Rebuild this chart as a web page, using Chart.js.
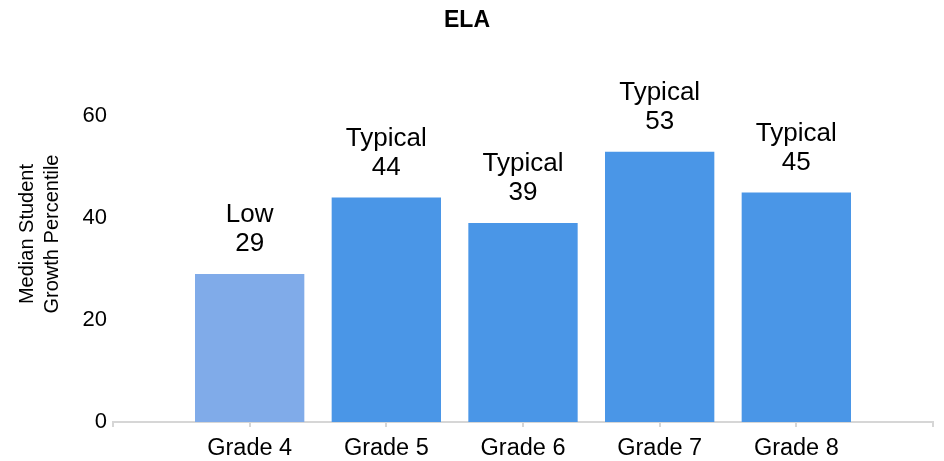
<!DOCTYPE html>
<html>
<head>
<meta charset="utf-8">
<script src="https://cdn.jsdelivr.net/npm/chart.js@4/dist/chart.umd.min.js"></script>
<style>
  html, body { margin: 0; padding: 0; background: #ffffff; }
  #wrap { width: 944px; height: 461px; position: relative; }
</style>
</head>
<body>
<div id="wrap"><canvas id="chart"></canvas></div>
<script>
// Grades shown on the x axis (empty slots pad both ends of the axis)
const grades = ['', 'Grade 4', 'Grade 5', 'Grade 6', 'Grade 7', 'Grade 8', ''];
// Median student growth percentile per grade
const medianSGP = [null, 29, 44, 39, 53, 45, null];
// Growth level for each grade
const growthLevel = ['', 'Low', 'Typical', 'Typical', 'Typical', 'Typical', ''];
// Y tick values
const yTicks = [0, 20, 40, 60];

const chartTitle = 'ELA';
const yAxisTitle = ['Median Student', 'Growth Percentile'];

const FONT = '"Liberation Sans", Arial, sans-serif';
const levelColors = { Low: '#80abe9', Typical: '#4a96e7' };

const overlay = {
  id: 'overlay',
  afterDatasetsDraw(chart) {
    const ctx = chart.ctx;
    const meta = chart.getDatasetMeta(0);
    ctx.save();
    ctx.fillStyle = '#000000';
    ctx.textAlign = 'center';
    ctx.textBaseline = 'alphabetic';
    // value and growth level above each bar
    ctx.font = '26px ' + FONT;
    meta.data.forEach((bar, i) => {
      const v = medianSGP[i];
      if (v === null) return;
      ctx.fillText(String(v), bar.x, bar.y - 23);
      ctx.fillText(growthLevel[i], bar.x, bar.y - 52);
    });
    // chart title
    ctx.font = 'bold 23px ' + FONT;
    ctx.fillText(chartTitle, 467, 27);
    // y axis title, two rotated lines
    ctx.font = '20px ' + FONT;
    ctx.translate(40, 234);
    ctx.rotate(-Math.PI / 2);
    ctx.fillText(yAxisTitle[0], 0, -7);
    ctx.fillText(yAxisTitle[1], 0, 18);
    ctx.restore();
  }
};

new Chart(document.getElementById('chart'), {
  type: 'bar',
  data: {
    labels: grades,
    datasets: [{
      data: medianSGP,
      backgroundColor: growthLevel.map(l => levelColors[l] || '#4a96e7'),
      barPercentage: 0.8,
      categoryPercentage: 1.0,
      borderWidth: 0
    }]
  },
  options: {
    responsive: true,
    maintainAspectRatio: false,
    animation: false,
    layout: { padding: { top: 116, right: 11, bottom: 0, left: 0 } },
    plugins: {
      legend: { display: false },
      tooltip: { enabled: false },
      title: { display: false }
    },
    scales: {
      x: {
        offset: false,
        grid: {
          display: true,
          offset: false,
          drawOnChartArea: false,
          drawTicks: true,
          tickLength: 5,
          color: '#d6d6d6',
          lineWidth: 2
        },
        border: { display: true, color: '#d6d6d6', width: 2 },
        ticks: {
          color: '#000000',
          font: { family: FONT, size: 23.5 },
          padding: 7,
          maxRotation: 0,
          autoSkip: false
        },
        afterFit(scale) { scale.height = 39; }
      },
      y: {
        min: 0,
        max: 60,
        afterBuildTicks(scale) { scale.ticks = yTicks.map(v => ({ value: v })); },
        grid: { display: false, drawTicks: false },
        border: { display: false },
        ticks: {
          color: '#000000',
          font: { family: FONT, size: 22 },
          padding: 6
        },
        afterFit(scale) { scale.width = 113; }
      }
    }
  },
  plugins: [overlay]
});
</script>
</body>
</html>
